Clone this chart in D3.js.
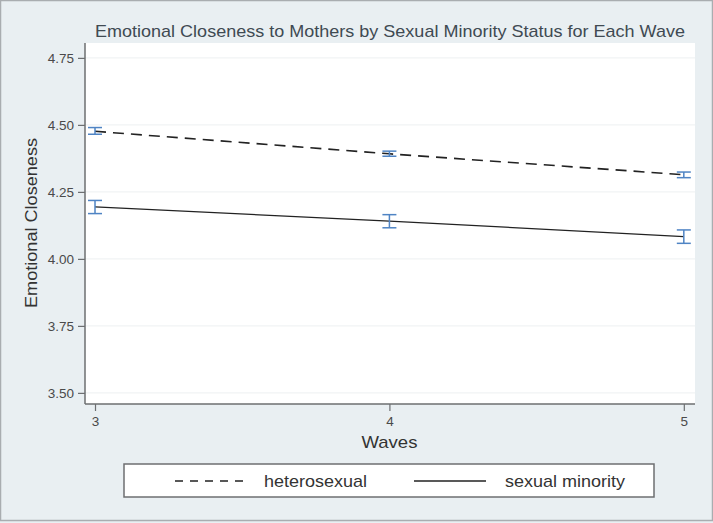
<!DOCTYPE html>
<html>
<head>
<meta charset="utf-8">
<script src="https://cdn.jsdelivr.net/npm/d3@7/dist/d3.min.js"></script>
<style>
  html, body { margin: 0; padding: 0; background: #e9eff2; }
  svg { display: block; font-family: "Liberation Sans", Arial, sans-serif; }
</style>
</head>
<body>
<svg id="chart" width="713" height="523"></svg>
<script>
// Waves on the x axis
const waves = [3, 4, 5];
// Mean emotional closeness per wave, with confidence interval bounds
const heteroMean  = [4.476, 4.392, 4.314];
const heteroLower = [4.465, 4.383, 4.303];
const heteroUpper = [4.490, 4.402, 4.324];
const minorityMean  = [4.194, 4.141, 4.083];
const minorityLower = [4.169, 4.116, 4.058];
const minorityUpper = [4.218, 4.165, 4.108];
// Axis ticks
const yTicks = [3.50, 3.75, 4.00, 4.25, 4.50, 4.75];
const xTicks = [3, 4, 5];
const seriesNames = ["heterosexual", "sexual minority"];

const svg = d3.select("#chart");
const W = 713, H = 523;
const plot = { left: 85, right: 695, top: 43, bottom: 404 };

// outer frame
svg.append("rect").attr("x", 0.5).attr("y", 0.5).attr("width", W - 1).attr("height", H - 3)
  .attr("fill", "#e9eff2").attr("stroke", "#a9adb0").attr("stroke-width", 1.5);

svg.append("rect").attr("x", plot.left).attr("y", plot.top)
  .attr("width", plot.right - plot.left).attr("height", plot.bottom - plot.top)
  .attr("fill", "#ffffff");

const x = d3.scaleLinear().domain([2.966, 5.038]).range([plot.left, plot.right]);
const y = d3.scaleLinear().domain([3.4585, 4.8055]).range([plot.bottom, plot.top]);

// faint horizontal grid
svg.append("g").selectAll("line").data(yTicks).join("line")
  .attr("x1", plot.left).attr("x2", plot.right)
  .attr("y1", d => y(d)).attr("y2", d => y(d))
  .attr("stroke", "#f1f3f4").attr("stroke-width", 1.2);

// y axis
const yAxis = svg.append("g").attr("transform", `translate(${plot.left},0)`)
  .call(d3.axisLeft(y).tickValues(yTicks).tickFormat(d3.format(".2f")).tickSize(7).tickPadding(4));
yAxis.select(".domain").attr("d", `M0,${plot.top}V${plot.bottom}`);
// x axis
const xAxis = svg.append("g").attr("transform", `translate(0,${plot.bottom})`)
  .call(d3.axisBottom(x).tickValues(xTicks).tickFormat(d3.format("d")).tickSize(7).tickPadding(5));
xAxis.select(".domain").attr("d", `M${plot.left},0H${plot.right}`);

[yAxis, xAxis].forEach(a => {
  a.select(".domain").attr("stroke", "#6d6f71").attr("stroke-width", 1.5);
  a.selectAll(".tick line").attr("stroke", "#6d6f71").attr("stroke-width", 1.2);
  a.selectAll(".tick text").attr("fill", "#4a4a4a").attr("font-size", 13.5)
    .attr("font-family", "'Liberation Sans', Arial, sans-serif");
});

// lines
const lineGen = d3.line().x(d => x(d[0])).y(d => y(d[1]));
svg.append("path").datum(waves.map((w, i) => [w, heteroMean[i]]))
  .attr("d", lineGen).attr("fill", "none").attr("stroke", "#222")
  .attr("stroke-width", 1.6).attr("stroke-dasharray", "11,7");
svg.append("path").datum(waves.map((w, i) => [w, minorityMean[i]]))
  .attr("d", lineGen).attr("fill", "none").attr("stroke", "#222")
  .attr("stroke-width", 1.3);

// confidence interval bars
function ciBars(lower, upper) {
  const g = svg.append("g").attr("stroke", "#4f84c4").attr("stroke-width", 1.5).attr("fill", "none");
  waves.forEach((w, i) => {
    const cx = x(w), half = 7;
    g.append("line").attr("x1", cx).attr("x2", cx).attr("y1", y(lower[i])).attr("y2", y(upper[i]));
    g.append("line").attr("x1", cx - half).attr("x2", cx + half).attr("y1", y(lower[i])).attr("y2", y(lower[i]));
    g.append("line").attr("x1", cx - half).attr("x2", cx + half).attr("y1", y(upper[i])).attr("y2", y(upper[i]));
  });
}
ciBars(heteroLower, heteroUpper);
ciBars(minorityLower, minorityUpper);

// title and axis labels
svg.append("text").attr("x", 390).attr("y", 37).attr("text-anchor", "middle")
  .attr("font-size", 17).attr("fill", "#404a52")
  .attr("textLength", 590).attr("lengthAdjust", "spacingAndGlyphs")
  .text("Emotional Closeness to Mothers by Sexual Minority Status for Each Wave");
svg.append("text").attr("transform", `translate(37,223) rotate(-90)`).attr("text-anchor", "middle")
  .attr("font-size", 17).attr("fill", "#333")
  .attr("textLength", 170).attr("lengthAdjust", "spacingAndGlyphs")
  .text("Emotional Closeness");
svg.append("text").attr("x", x(4)).attr("y", 448).attr("text-anchor", "middle")
  .attr("font-size", 17).attr("fill", "#333")
  .attr("textLength", 56).attr("lengthAdjust", "spacingAndGlyphs").text("Waves");

// legend
const lg = svg.append("g");
lg.append("rect").attr("x", 124).attr("y", 464).attr("width", 530).attr("height", 33)
  .attr("fill", "#fff").attr("stroke", "#6d6f71").attr("stroke-width", 1.5);
lg.append("line").attr("x1", 175).attr("x2", 248).attr("y1", 481).attr("y2", 481)
  .attr("stroke", "#222").attr("stroke-width", 1.4).attr("stroke-dasharray", "8,7");
lg.append("text").attr("x", 264).attr("y", 487).attr("font-size", 17).attr("fill", "#333")
  .attr("textLength", 103).attr("lengthAdjust", "spacingAndGlyphs").text(seriesNames[0]);
lg.append("line").attr("x1", 414).attr("x2", 486).attr("y1", 481).attr("y2", 481)
  .attr("stroke", "#222").attr("stroke-width", 1.3);
lg.append("text").attr("x", 505).attr("y", 487).attr("font-size", 17).attr("fill", "#333")
  .attr("textLength", 120).attr("lengthAdjust", "spacingAndGlyphs").text(seriesNames[1]);
</script>
</body>
</html>
